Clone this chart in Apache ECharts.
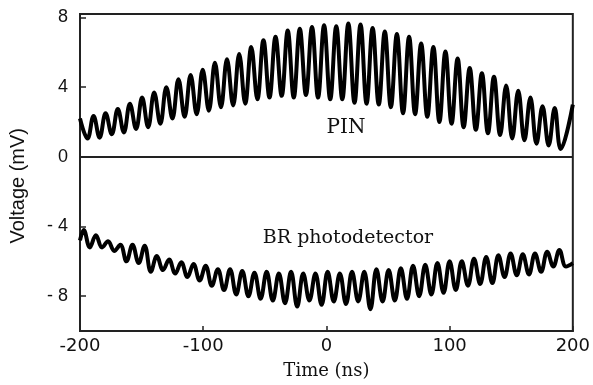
<!DOCTYPE html>
<html>
<head>
<meta charset="utf-8">
<script src="https://cdn.jsdelivr.net/npm/echarts@6/dist/echarts.min.js"></script>
<style>html,body{margin:0;padding:0;background:#fff;}#c{width:593px;height:385px;}</style>
</head>
<body>
<div id="c"></div>
<script>
// Time ticks and voltage ticks
const xTicks = [-200, -100, 0, 100, 200];
const yTicks = [-8, -4, 0, 4, 8];

// PIN trace: alternating troughs / peaks
const pinTime = [-200, -193.9, -189, -184.1, -179.2, -174.2, -169.3, -164.4, -159.5, -154.5, -149.6, -144.7, -139.8, -134.8, -129.9, -125, -120.1, -115.1, -110.2, -105.3, -100.4, -95.4, -90.5, -85.6, -80.7, -75.7, -70.8, -65.9, -61, -56, -51.1, -46.2, -41.3, -36.3, -31.4, -26.5, -21.6, -16.6, -11.7, -6.8, -1.9, 3.1, 8, 12.9, 17.8, 22.8, 27.7, 32.6, 37.5, 42.5, 47.4, 52.3, 57.2, 62.2, 67.1, 72, 76.9, 81.9, 86.8, 91.7, 96.6, 101.6, 106.5, 111.4, 116.3, 121.3, 126.2, 131.1, 136, 141, 145.9, 150.8, 155.7, 160.7, 165.6, 170.5, 175.4, 180.4, 185.3, 190.2, 200];
const pinVolt = [2.2, 1.05, 2.35, 1.1, 2.5, 1.3, 2.75, 1.4, 3.05, 1.6, 3.4, 1.7, 3.7, 1.9, 4.0, 2.2, 4.45, 2.3, 4.7, 2.45, 5.0, 2.65, 5.4, 2.85, 5.6, 2.95, 5.9, 3.05, 6.3, 3.3, 6.7, 3.4, 6.9, 3.5, 7.25, 3.4, 7.35, 3.55, 7.45, 3.4, 7.55, 3.3, 7.5, 3.3, 7.65, 3.1, 7.6, 3.05, 7.4, 3.0, 7.2, 2.85, 7.05, 2.5, 6.9, 2.45, 6.5, 2.3, 6.3, 2.0, 6.05, 1.9, 5.65, 1.7, 5.1, 1.55, 4.8, 1.35, 4.6, 1.25, 4.1, 1.05, 3.8, 0.95, 3.4, 0.75, 2.9, 0.65, 2.8, 0.45, 3.0];

// BR photodetector trace: alternating peaks / troughs
const brTime = [-200, -197, -192, -187.1, -182.1, -177.2, -172.2, -167.3, -162.3, -157.4, -152.4, -147.5, -142.5, -137.6, -132.6, -127.7, -122.7, -117.8, -112.8, -107.9, -102.9, -98, -93, -88.1, -83.1, -78.2, -73.2, -68.3, -63.3, -58.4, -53.4, -48.5, -43.5, -38.6, -33.6, -28.7, -23.7, -18.8, -13.8, -8.9, -3.9, 1, 6, 10.9, 15.9, 20.8, 25.8, 30.7, 35.7, 40.6, 45.6, 50.5, 55.5, 60.4, 65.4, 70.3, 75.3, 80.2, 85.2, 90.1, 95.1, 100, 105, 109.9, 114.9, 119.8, 124.8, 129.7, 134.7, 139.6, 144.6, 149.5, 154.5, 159.4, 164.4, 169.3, 174.3, 179.2, 184.2, 189.1, 194.5, 200];
const brVolt = [-4.8, -4.2, -5.2, -4.5, -5.2, -4.85, -5.4, -5.05, -6.0, -5.05, -6.1, -5.1, -6.6, -5.7, -6.5, -5.9, -6.7, -6.05, -6.9, -6.15, -7.1, -6.25, -7.4, -6.45, -7.65, -6.45, -7.9, -6.55, -8.0, -6.65, -8.15, -6.6, -8.25, -6.7, -8.4, -6.6, -8.6, -6.7, -8.25, -6.7, -8.5, -6.6, -8.3, -6.7, -8.45, -6.6, -8.3, -6.6, -8.75, -6.45, -8.3, -6.5, -8.25, -6.4, -8.15, -6.25, -8.0, -6.2, -7.9, -6.1, -7.8, -6.0, -7.65, -6.0, -7.4, -5.85, -7.3, -5.75, -7.25, -5.65, -6.9, -5.55, -6.8, -5.6, -6.75, -5.55, -6.6, -5.45, -6.3, -5.35, -6.3, -6.1];

const pinData = pinTime.map((t, i) => [t, pinVolt[i]]);
const brData = brTime.map((t, i) => [t, brVolt[i]]);

const chart = echarts.init(document.getElementById('c'), null, {renderer: 'canvas'});
const lineCol = '#000';
chart.setOption({
  animation: false,
  backgroundColor: '#fff',
  grid: {left: 80, right: 16, top: 14, bottom: 49, show: true, borderColor: '#222', borderWidth: 2, backgroundColor: 'transparent'},
  xAxis: {
    type: 'value', min: -200, max: 200, interval: 100,
    axisLine: {show: true, onZero: false, lineStyle: {color: '#222', width: 2}},
    axisTick: {show: true, inside: true, length: 5, lineStyle: {color: '#222', width: 1.5}},
    splitLine: {show: false},
    axisLabel: {color: '#111', fontFamily: 'DejaVu Sans', fontSize: 18, margin: 6},
    name: 'Time (ns)', nameLocation: 'middle', nameGap: 31,
    nameTextStyle: {color: '#111', fontFamily: 'DejaVu Serif', fontSize: 18}
  },
  yAxis: {
    type: 'value', min: -10, max: 8.2,
    axisLine: {show: true, onZero: false, lineStyle: {color: '#222', width: 2}},
    axisTick: {show: true, inside: true, length: 6, customValues: yTicks, lineStyle: {color: '#222', width: 1.5}},
    splitLine: {show: false},
    axisLabel: {color: '#111', fontFamily: 'Liberation Sans', fontSize: 18, margin: 12, customValues: yTicks,
      formatter: v => v < 0 ? '- ' + Math.abs(v) : String(v)}
  },
  graphic: [
    {type: 'text', left: 8, top: 128, rotation: Math.PI/2, style: {text: 'Voltage (mV)', font: '20px "Liberation Sans"', fill: '#111'}},
    {type: 'text', x: 346, y: 128, style: {text: 'PIN', font: '20px "DejaVu Serif"', fill: '#111', align: 'center', verticalAlign: 'middle'}},
    {type: 'text', x: 348, y: 238, style: {text: 'BR photodetector', font: '19px "DejaVu Serif"', fill: '#111', align: 'center', verticalAlign: 'middle'}}
  ],
  series: [
    {type: 'line', data: pinData, showSymbol: false, smooth: 0.4, lineStyle: {color: lineCol, width: 4},
      markLine: {silent: true, symbol: 'none', label: {show: false}, lineStyle: {color: '#222', width: 2, type: 'solid'}, data: [{yAxis: 0}]}},
    {type: 'line', data: brData, showSymbol: false, smooth: 0.4, lineStyle: {color: lineCol, width: 4}}
  ]
});
</script>
</body>
</html>
